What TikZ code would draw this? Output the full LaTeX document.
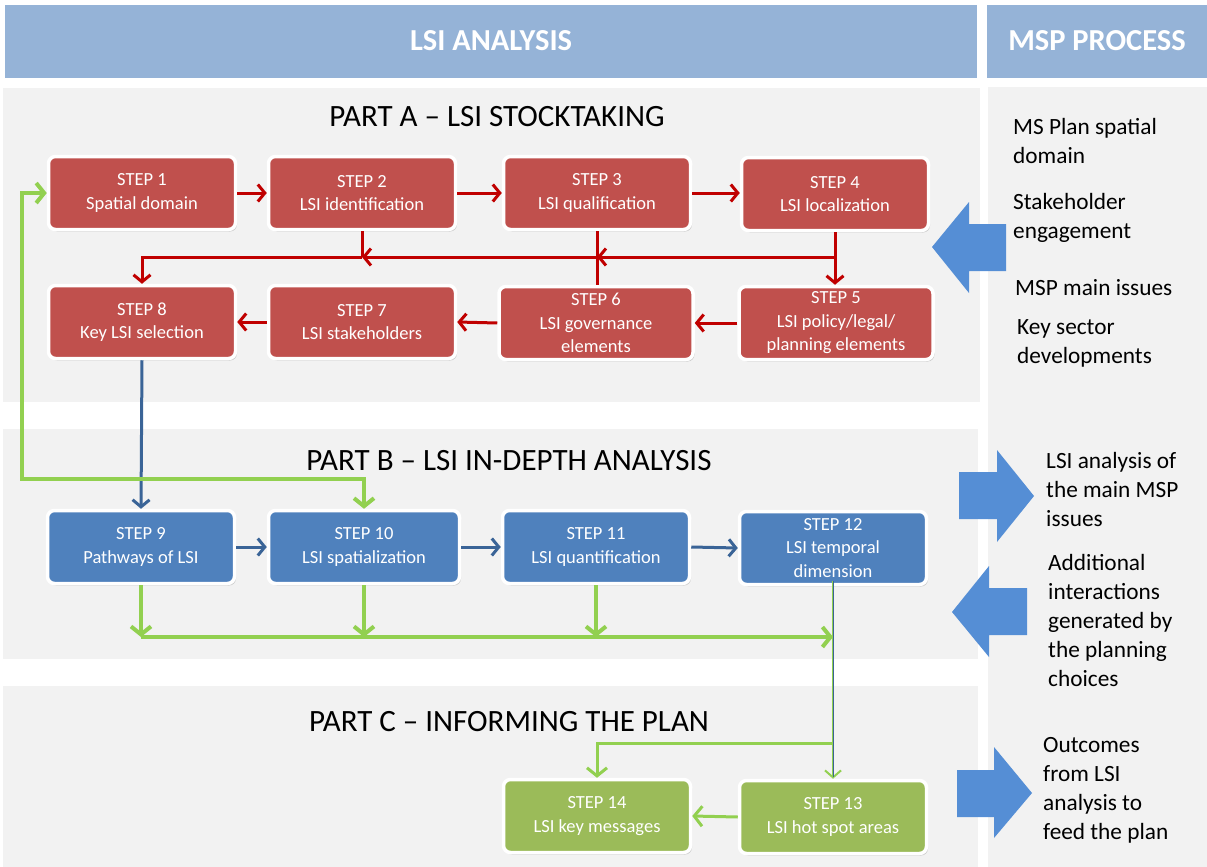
\documentclass[tikz,border=0pt]{standalone}
\usepackage{fontspec}
\setmainfont{Carlito}
\usetikzlibrary{positioning, shapes, arrows.meta, shadows}

\definecolor{hdrblue}{HTML}{95B3D7}
\definecolor{panelgray}{HTML}{F2F2F2}
\definecolor{stepred}{HTML}{C0504D}
\definecolor{stepblue}{HTML}{4F81BD}
\definecolor{stepgreen}{HTML}{9BBB59}
\definecolor{linkred}{HTML}{C00000}
\definecolor{linkblue}{HTML}{3A6497}
\definecolor{linkgreen}{HTML}{92D050}
\definecolor{mspblue}{HTML}{558ED5}

\begin{document}
\begin{tikzpicture}[x=1pt, y=-1pt, font=\fontsize{18.5}{23.5}\selectfont,
  stepbox/.style={draw=white, line width=3.5pt, rounded corners=7pt, text=white, align=center,
    minimum width=187pt, minimum height=73pt, inner sep=2pt,
    drop shadow={opacity=0.35, shadow xshift=1.5pt, shadow yshift=-2pt}},
  redarrow/.style={draw=linkred, line width=3pt, -{Straight Barb[length=7pt, width=17pt]}},
  redline/.style={draw=linkred, line width=3pt},
  bluearrow/.style={draw=linkblue, line width=3pt, -{Straight Barb[length=7pt, width=17pt]}},
  greenarrow/.style={draw=linkgreen, line width=4pt, -{Straight Barb[length=8pt, width=20pt]}},
  parttitle/.style={font=\fontsize{31}{36}\selectfont, inner sep=0pt},
  hdrtext/.style={font=\bfseries\fontsize{30.5}{35}\selectfont, text=white, inner sep=0pt},
  msptext/.style={font=\fontsize{23.3}{29}\selectfont, align=left, anchor=west, inner sep=0pt},
  bigarrow/.style={fill=mspblue}]
\useasboundingbox (0,0) rectangle (1207,867);

% header and panels
\fill[hdrblue] (5,5) rectangle (977,78);
\fill[hdrblue] (987,5) rectangle (1207,78);
\node[hdrtext] (hdrlsi) at (491,41) {LSI ANALYSIS};
\node[hdrtext] (hdrmsp) at (1097,41) {MSP PROCESS};
\fill[panelgray] (3,88) rectangle (980,402);
\fill[panelgray] (3,429) rectangle (978,659);
\fill[panelgray] (3,686) rectangle (978,867);
\fill[panelgray] (988,87) rectangle (1207,867);

\node[parttitle] (titleA) at (497,117) {PART A – LSI STOCKTAKING};
\node[parttitle] (titleB) at (509,461) {PART B – LSI IN-DEPTH ANALYSIS};
\node[parttitle] (titleC) at (509,722) {PART C – INFORMING THE PLAN};

% part A
\node[stepbox, fill=stepred] (s1) at (142,193) {STEP 1\\Spatial domain};
\node[stepbox, fill=stepred] (s2) at (362,193) {STEP 2\\LSI identification};
\node[stepbox, fill=stepred] (s3) at (597,193) {STEP 3\\LSI qualification};
\node[stepbox, fill=stepred] (s4) at (835,194) {STEP 4\\LSI localization};
\node[stepbox, fill=stepred] (s8) at (142,322) {STEP 8\\Key LSI selection};
\node[stepbox, fill=stepred] (s7) at (362,322) {STEP 7\\LSI stakeholders};
\node[stepbox, fill=stepred, minimum width=194pt] (s6) at (596,323) {STEP 6\\LSI governance\\elements};
\node[stepbox, fill=stepred, minimum width=194pt] (s5) at (836,323) {STEP 5\\LSI policy/legal/\\planning elements};

% part B
\node[stepbox, fill=stepblue] (s9) at (141,547) {STEP 9\\Pathways of LSI};
\node[stepbox, fill=stepblue, minimum width=191pt] (s10) at (364,547) {STEP 10\\LSI spatialization};
\node[stepbox, fill=stepblue] (s11) at (596,547) {STEP 11\\LSI quantification};
\node[stepbox, fill=stepblue] (s12) at (833,548) {STEP 12\\LSI temporal\\dimension};

% part C
\node[stepbox, fill=stepgreen] (s14) at (597,816) {STEP 14\\LSI key messages};
\node[stepbox, fill=stepgreen] (s13) at (833,817) {STEP 13\\LSI hot spot areas};

\coordinate (rowA) at (0,257);
\coordinate (rowB) at (0,637);
\coordinate (rowC) at (0,743);
\coordinate (loopL) at (22,479);

% links of part A
\draw[redarrow] (s1.east) -- (s2.west);
\draw[redarrow] (s2.east) -- (s3.west);
\draw[redarrow] (s3.east) -- (s3.east -| s4.west);
\draw[redline] (s3.south) -- (s3.south |- s6.north);
\draw[redline] (s2.south) -- (s2.south |- rowA);
\draw[redarrow] (s4.south) -- (s4.south |- s5.north);
\draw[redarrow] (s4.south |- rowA) -- (s3.south |- rowA);
\draw[redarrow] (s3.south |- rowA) -- (s2.south |- rowA);
\draw[redarrow] (s2.south |- rowA) -| (s8.north);
\draw[redarrow] (s5.west) -- (s6.east);
\draw[redarrow] (s6.west) -- (s7.east);
\draw[redarrow] (s7.west) -- (s8.east);

% links of part B
\draw[bluearrow] (s8.south) -- (s9.north);
\draw[bluearrow] (s9.east) -- (s10.west);
\draw[bluearrow] (s10.east) -- (s11.west);
\draw[bluearrow] (s11.east) -- (s12.west);
\draw[greenarrow, {Straight Barb[length=8pt, width=20pt]}-{Straight Barb[length=8pt, width=20pt]}]
  (s1.west) -| (loopL) -| (s10.north);
\draw[greenarrow] (s9.south) -- (s9.south |- rowB);
\draw[greenarrow] (s10.south) -- (s10.south |- rowB);
\draw[greenarrow] (s11.south) -- (s11.south |- rowB);
\draw[greenarrow] (s9.south |- rowB) -- (s12.south |- rowB);

% links of part C
\draw[draw=linkgreen, line width=2pt, -{Straight Barb[length=7pt, width=16pt]}] ([yshift=5pt]s12.south) -- (s13.north);
\draw[draw=linkblue, line width=1pt] ([yshift=5pt]s12.south) -- ([yshift=2pt]s13.north);
\draw[greenarrow, line width=3pt] (s13.north |- rowC) -| (s14.north);
\draw[greenarrow, line width=3pt] (s13.west) -- (s14.east);

% MSP process
\fill[bigarrow] (932,247) -- (969,202) -- (969,224) -- (1006,224) -- (1006,271) -- (969,271) -- (969,293) -- cycle;
\fill[bigarrow] (1034,496) -- (997,450) -- (997,472) -- (959,472) -- (959,519) -- (997,519) -- (997,542) -- cycle;
\fill[bigarrow] (952,612) -- (989,566) -- (989,588) -- (1027,588) -- (1027,635) -- (989,635) -- (989,657) -- cycle;
\fill[bigarrow] (1032,793) -- (994,747) -- (994,770) -- (957,770) -- (957,817) -- (994,817) -- (994,838) -- cycle;

\node[msptext] (mspdomain) at (1013,141) {MS Plan spatial\\domain};
\node[msptext] (mspstake) at (1013,218) {Stakeholder\\engagement};
\node[msptext] (mspissues) at (1015,288) {MSP main issues};
\node[msptext] (mspsector) at (1017,343) {Key sector\\developments};
\node[msptext] (mspanalysis) at (1046,489) {LSI analysis of\\the main MSP\\issues};
\node[msptext] (mspextra) at (1048,620) {Additional\\interactions\\generated by\\the planning\\choices};
\node[msptext] (mspout) at (1043,790) {Outcomes\\from LSI\\analysis to\\feed the plan};
\end{tikzpicture}
\end{document}
